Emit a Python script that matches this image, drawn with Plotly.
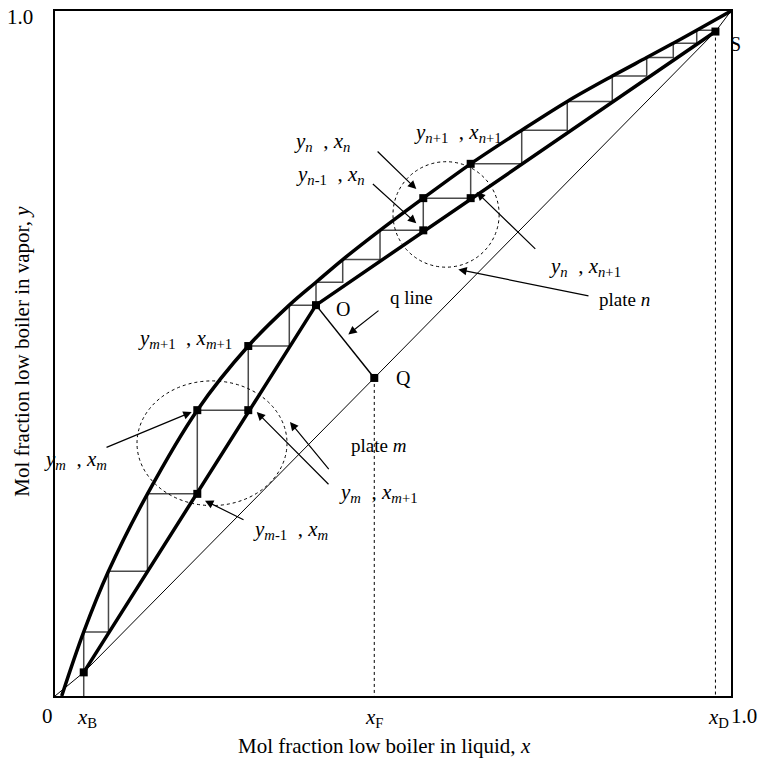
import plotly.graph_objects as go

# Vapour-liquid equilibrium curve for the low boiler (liquid x, vapour y)
eq_x = [0.0099, 0.0425, 0.0791, 0.1368, 0.2105, 0.2859, 0.3466, 0.3861, 0.4256,
        0.4808, 0.5448, 0.6149, 0.6904, 0.7578, 0.8244, 0.8753, 0.9146, 0.9493, 1.0]
eq_y = [0.0, 0.0936, 0.1820, 0.2951, 0.4173, 0.5109, 0.5706, 0.6040, 0.6371,
        0.6798, 0.7268, 0.7769, 0.8260, 0.8680, 0.9050, 0.9320, 0.9530, 0.9719, 1.0]

# Key compositions
x_B, y_B = 0.0425, 0.0345      # bottoms
x_F, y_Q = 0.4723, 0.4643      # feed point Q
x_O, y_O = 0.3861, 0.5706      # intersection of operating lines
x_D, y_S = 0.977, 0.970        # distillate point S

# Plates highlighted by the dotted circles (index into eq_x / eq_y)
plate_m = 4
plate_n = 10

SERIF = "Liberation Serif"

fig = go.Figure()

# Thin reference line through the origin, B, Q, S and (1, 1)
fig.add_trace(go.Scatter(x=[0, x_B, x_F, x_D, 1], y=[0, y_B, y_Q, y_S, 1],
                         mode="lines", line=dict(color="black", width=1),
                         hoverinfo="skip"))

# Stepped stages between equilibrium curve and operating lines
stage_x = eq_x[1:-1]
stage_y = eq_y[1:-1]
sx, sy = [x_B], [0.0]
for i, (xs, ys) in enumerate(zip(stage_x, stage_y)):
    nxt = stage_x[i + 1] if i + 1 < len(stage_x) else x_D
    sx += [xs, nxt]
    sy += [ys, ys]
fig.add_trace(go.Scatter(x=sx, y=sy, mode="lines",
                         line=dict(color="#4a4a4a", width=1.5), hoverinfo="skip"))

# Equilibrium curve
fig.add_trace(go.Scatter(x=eq_x, y=eq_y, mode="lines",
                         line=dict(color="black", width=3.5, shape="spline", smoothing=1.0),
                         hoverinfo="skip"))

# Stripping and rectifying operating lines
fig.add_trace(go.Scatter(x=[x_B, x_O, x_D], y=[y_B, y_O, y_S], mode="lines",
                         line=dict(color="black", width=3.5), hoverinfo="skip"))

# q line
fig.add_trace(go.Scatter(x=[x_O, x_F], y=[y_O, y_Q], mode="lines",
                         line=dict(color="black", width=1.5), hoverinfo="skip"))

# Dotted verticals at x_F and x_D
fig.add_trace(go.Scatter(x=[x_F, x_F], y=[y_Q, 0], mode="lines",
                         line=dict(color="black", width=1, dash="dot"), hoverinfo="skip"))
fig.add_trace(go.Scatter(x=[x_D, x_D], y=[y_S, 0], mode="lines",
                         line=dict(color="black", width=1, dash="dot"), hoverinfo="skip"))

# Marked points
mk_x = [x_B, x_O, x_F, x_D]
mk_y = [y_B, y_O, y_Q, y_S]
for k in (plate_m, plate_m + 1, plate_n, plate_n + 1):
    mk_x += [eq_x[k], eq_x[k]]
    mk_y += [eq_y[k], eq_y[k - 1]]
fig.add_trace(go.Scatter(x=mk_x, y=mk_y, mode="markers",
                         marker=dict(symbol="square", size=8, color="black"),
                         hoverinfo="skip"))

# Dotted circles around plates m and n
fig.add_shape(type="circle", xref="x", yref="y", x0=0.1213, x1=0.3432, y0=0.278, y1=0.460,
              line=dict(color="black", width=1, dash="dot"))
fig.add_shape(type="circle", xref="x", yref="y", x0=0.500, x1=0.657, y0=0.626, y1=0.780,
              line=dict(color="black", width=1, dash="dot"))

annotations = []


def text(x, y, s, size=19, **kw):
    # paper coordinates coincide with the [0, 1] axis ranges of this figure
    annotations.append(dict(x=x, y=y, xref="paper", yref="paper", text=s, showarrow=False,
                            xanchor="center", yanchor="middle",
                            font=dict(family=SERIF, size=size, color="black"), **kw))


def arrow(x, y, ax, ay):
    annotations.append(dict(x=x, y=y, ax=ax, ay=ay, xref="x", yref="y", axref="x", ayref="y",
                            text="", showarrow=True, arrowhead=2, arrowsize=1.4,
                            arrowwidth=1.2, arrowcolor="black"))


def pair(ysub, xsub):
    return f"<i>y</i><sub>{ysub}</sub>  , <i>x</i><sub>{xsub}</sub>"


LS = 21  # size of the composition-pair labels

# Labels around plate n
text(0.395, 0.809, pair("<i>n</i>", "<i>n</i>"), LS)
text(0.596, 0.822, pair("<i>n</i>+1", "<i>n</i>+1"), LS)
text(0.408, 0.760, pair("<i>n</i>-1", "<i>n</i>"), LS)
text(0.784, 0.627, pair("<i>n</i>", "<i>n</i>+1"), LS)
text(0.843, 0.579, "plate <i>n</i>")
arrow(0.5345, 0.740, 0.475, 0.797)
arrow(0.5345, 0.690, 0.468, 0.7495)
arrow(0.6238, 0.7357, 0.7127, 0.6506)
arrow(0.5966, 0.6226, 0.7914, 0.5837)

# Operating-line points
text(0.426, 0.565, "O", 20)
text(0.515, 0.464, "Q", 20)
text(1.007, 0.952, "S", 20)
text(0.528, 0.582, "q line")
arrow(0.4339, 0.5279, 0.4808, 0.5643)

# Labels around plate m
text(0.192, 0.521, pair("<i>m</i>+1", "<i>m</i>+1"), LS)
text(0.030, 0.344, pair("<i>m</i>", "<i>m</i>"), LS)
text(0.478, 0.365, "plate <i>m</i>")
text(0.478, 0.297, pair("<i>m</i>", "<i>m</i>+1"), LS)
text(0.348, 0.242, pair("<i>m</i>-1", "<i>m</i>"), LS)
arrow(0.2022, 0.4145, 0.074, 0.362)
arrow(0.3476, 0.4000, 0.4068, 0.3290)
arrow(0.2984, 0.4145, 0.4068, 0.3070)
arrow(0.2219, 0.2852, 0.2811, 0.2562)

# Axis tick texts
text(-0.0104, -0.029, "0", 21)
text(0.047, -0.032, "<i>x</i><sub>B</sub>", 21)
text(0.473, -0.032, "<i>x</i><sub>F</sub>", 21)
text(0.981, -0.032, "<i>x</i><sub>D</sub>", 21)
text(1.019, -0.029, "1.0", 21)
text(-0.052, 0.991, "1.0", 21)

# Axis titles
text(0.488, -0.073, "Mol fraction low boiler in liquid, <i>x</i>", 21)
text(-0.049, 0.504, "Mol fraction low boiler in vapor, <i>y</i>", 21, textangle=-90)

fig.update_layout(
    width=759, height=769,
    margin=dict(l=55, r=28, t=9, b=73),
    plot_bgcolor="white", paper_bgcolor="white",
    showlegend=False,
    annotations=annotations,
    xaxis=dict(range=[0, 1], showgrid=False, zeroline=False, showticklabels=False,
               ticks="", showline=True, mirror=True, linecolor="black", linewidth=2),
    yaxis=dict(range=[0, 1], showgrid=False, zeroline=False, showticklabels=False,
               ticks="", showline=True, mirror=True, linecolor="black", linewidth=2),
)

fig.write_html("out.html")
